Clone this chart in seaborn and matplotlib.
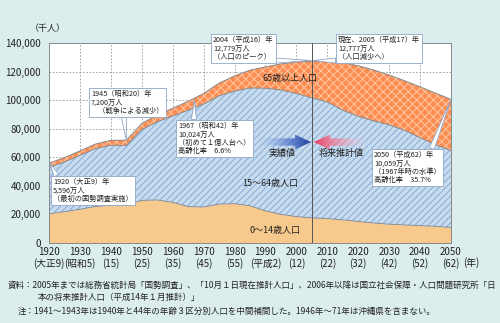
import numpy as np
import pandas as pd
import matplotlib
matplotlib.use("Agg")
import matplotlib.pyplot as plt
import seaborn as sns
from matplotlib.patches import Polygon
from matplotlib.colors import LinearSegmentedColormap
from matplotlib.ticker import FuncFormatter

years = [1920, 1925, 1930, 1935, 1940, 1945, 1950, 1955, 1960, 1965, 1970, 1975, 1980,
         1985, 1990, 1995, 2000, 2005, 2010, 2015, 2020, 2025, 2030, 2035, 2040, 2045, 2050]
age0_14 = [20416, 21924, 23579, 25545, 26369, 26477, 29786, 30123, 28434, 25529, 25153, 27221, 27507,
           26033, 22486, 20014, 18472, 17585, 17074, 16197, 15095, 13960, 13161, 12599, 12158, 11649, 10842]
age15_64 = [32605, 34792, 37807, 40484, 42096, 41821, 49661, 54729, 60469, 67444, 72119, 75807, 78835,
            82506, 85904, 87165, 86220, 84092, 81665, 76807, 73635, 71535, 69576, 66290, 61558, 57169, 53889]
age65 = [2941, 3021, 3064, 3225, 3454, 3700, 4155, 4786, 5398, 6236, 7393, 8865, 10647,
         12468, 14895, 18261, 22005, 25672, 28735, 33262, 35377, 35641, 34843, 34713, 35622, 36142, 35863]

xticks = [1920, 1930, 1940, 1950, 1960, 1970, 1980, 1990, 2000, 2010, 2020, 2030, 2040, 2050]
xticklabels = ["1920\n(大正9)", "1930\n(昭和5)", "1940\n(15)", "1950\n(25)", "1960\n(35)", "1970\n(45)",
               "1980\n(55)", "1990\n(平成2)", "2000\n(12)", "2010\n(22)", "2020\n(32)", "2030\n(42)",
               "2040\n(52)", "2050\n(62)"]
yticks = [0, 20000, 40000, 60000, 80000, 100000, 120000, 140000]

sns.set_theme(style="white")
plt.rcParams["font.family"] = ["Noto Sans CJK JP", "DejaVu Sans"]
plt.rcParams["hatch.linewidth"] = 0.8

df = pd.DataFrame({"year": years, "a": age0_14, "b": age15_64, "c": age65})
df["s1"] = df["a"]
df["s2"] = df["a"] + df["b"]
df["s3"] = df["s2"] + df["c"]

BG = "#dcedee"
fig = plt.figure(figsize=(5.0, 3.23), dpi=100, facecolor=BG)
ax = fig.add_axes([0.098, 0.2477, 0.804, 0.619])
ax.set_facecolor("white")

ax.fill_between(df["year"], 0, df["s1"], facecolor="#f8c98c", linewidth=0, zorder=1)
ax.fill_between(df["year"], df["s1"], df["s2"], facecolor="#c8dcf0", edgecolor="#8fb0d6",
                hatch="/////", linewidth=0, zorder=1)
ax.fill_between(df["year"], df["s2"], df["s3"], facecolor="#fb8d52", edgecolor="#ffc29a",
                hatch="xxxx", linewidth=0, zorder=1)
for col in ["s1", "s2", "s3"]:
    sns.lineplot(data=df, x="year", y=col, ax=ax, color="#8a8a8a", lw=0.7, zorder=2)

ax.set_xlim(1920, 2050)
ax.set_ylim(0, 140000)
ax.set_xticks(xticks)
ax.set_xticklabels(xticklabels, fontsize=7, color="#222222", linespacing=1.1)
ax.set_yticks(yticks)
ax.yaxis.set_major_formatter(FuncFormatter(lambda v, p: f"{int(v):,}"))
ax.tick_params(axis="y", labelsize=7, labelcolor="#222222", length=3, width=0.6, color="#666666", pad=3)
ax.tick_params(axis="x", length=3, width=0.6, color="#666666", pad=3, direction="in")
ax.set_xlabel("")
ax.set_ylabel("")
ax.grid(True, linestyle=(0, (2, 2)), color="#9a9a9a", lw=0.6)
ax.set_axisbelow(True)
for s in ax.spines.values():
    s.set_color("#888888")
    s.set_linewidth(0.7)

ax.axvline(2005, color="#555555", lw=0.7, zorder=5)

# area labels
ax.text(1998, 115000, "65歳以上人口", fontsize=6.5, ha="center", va="center", color="#222222", zorder=6)
ax.text(1991.5, 42000, "15～64歳人口", fontsize=6.5, ha="center", va="center", color="#222222", zorder=6)
ax.text(1993, 9000, "0～14歳人口", fontsize=6.5, ha="center", va="center", color="#222222", zorder=6)

# gradient arrows
def grad_arrow(pts, x0, x1, y0, y1, cmap):
    poly = Polygon(pts, closed=True, transform=ax.transData, fc="none", ec="none")
    ax.add_patch(poly)
    grad = np.linspace(0, 1, 256).reshape(1, -1)
    im = ax.imshow(grad, extent=[x0, x1, y0, y1], aspect="auto", cmap=cmap, zorder=6,
                   interpolation="bilinear")
    im.set_clip_path(poly)

yc, sh, hh = 70700, 2600, 5200
blue = LinearSegmentedColormap.from_list("b", [(0.55, 0.7, 0.9, 0.0), (0.3, 0.45, 0.8, 0.6), (0.1, 0.22, 0.6, 1.0)])
grad_arrow([(1988.0, yc - sh), (1999.6, yc - sh), (1999.6, yc - hh), (2004.7, yc),
            (1999.6, yc + hh), (1999.6, yc + sh), (1988.0, yc + sh)], 1988.0, 2004.7, yc - hh, yc + hh, blue)
red = LinearSegmentedColormap.from_list("r", [(0.93, 0.25, 0.38, 1.0), (0.97, 0.5, 0.6, 0.6), (1.0, 0.8, 0.85, 0.0)])
grad_arrow([(2005.6, yc), (2010.8, yc - hh), (2010.8, yc - sh), (2022.3, yc - sh),
            (2022.3, yc + sh), (2010.8, yc + sh), (2010.8, yc + hh)], 2005.6, 2022.3, yc - hh, yc + hh, red)
ax.set_xlim(1920, 2050)
ax.set_ylim(0, 140000)
ax.text(1995.5, 62500, "実績値", fontsize=6.5, ha="center", va="center", color="#222222", zorder=7)
ax.text(2014.5, 62500, "将来推計値", fontsize=6.5, ha="center", va="center", color="#222222", zorder=7)

# callout boxes
EC = "#8fa6c6"
def callout(text, bx, by, tx, ty, rel):
    ax.annotate(text, xy=(tx, ty), xycoords="data",
                xytext=(bx / 500, 1 - by / 323), textcoords="figure fraction",
                ha="left", va="top", fontsize=5.2, linespacing=1.05, color="#222222",
                bbox=dict(boxstyle="square,pad=0.3", fc="white", ec=EC, lw=0.6),
                arrowprops=dict(arrowstyle="wedge,tail_width=0.7", fc="white", ec=EC, lw=0.6,
                                shrinkA=0, shrinkB=0, relpos=rel),
                annotation_clip=False, zorder=8)

callout("1920（大正9）年\n5,596万人\n（最初の国勢調査実施）", 53, 178, 1920.3, 55962, (0.06, 1.0))
callout("1945（昭和20）年\n7,200万人\n　（戦争による減少）", 91, 90, 1945, 71998, (0.45, 0.0))
callout("1967（昭和42）年\n10,024万人\n（初めて１億人台へ）\n高齢化率　6.6%", 178, 122, 1967, 100240, (0.22, 1.0))
callout("2004（平成16）年\n12,779万人\n（人口のピーク）", 213, 36, 2004.6, 127790, (0.85, 0.0))
callout("現在、2005（平成17）年\n12,777万人\n（人口減少へ）", 338, 36, 2005.4, 127770, (0.1, 0.0))
callout("2050（平成62）年\n10,059万人\n（1967年時の水準）\n高齢化率　35.7%", 374, 151, 2050, 100594, (0.85, 1.0))

fig.text(48 / 500, 1 - 29 / 323, "（千人）", fontsize=6.5, ha="center", va="center", color="#222222")
fig.text(463 / 500, 1 - 263 / 323, "(年)", fontsize=7, ha="left", va="center", color="#222222")

fig.text(8 / 500, 1 - 285 / 323,
         "資料：2005年までは総務省統計局「国勢調査」、「10月１日現在推計人口」、2006年以降は国立社会保障・人口問題研究所「日",
         fontsize=6.1, ha="left", va="center", color="#222222")
fig.text(38 / 500, 1 - 297 / 323, "本の将来推計人口（平成14年１月推計）」",
         fontsize=6.1, ha="left", va="center", color="#222222")
fig.text(18 / 500, 1 - 311 / 323,
         "注：1941～1943年は1940年と44年の年齢３区分別人口を中間補間した。1946年～71年は沖縄県を含まない。",
         fontsize=6.1, ha="left", va="center", color="#222222")

fig.savefig("out.png", dpi=100, facecolor=BG)
